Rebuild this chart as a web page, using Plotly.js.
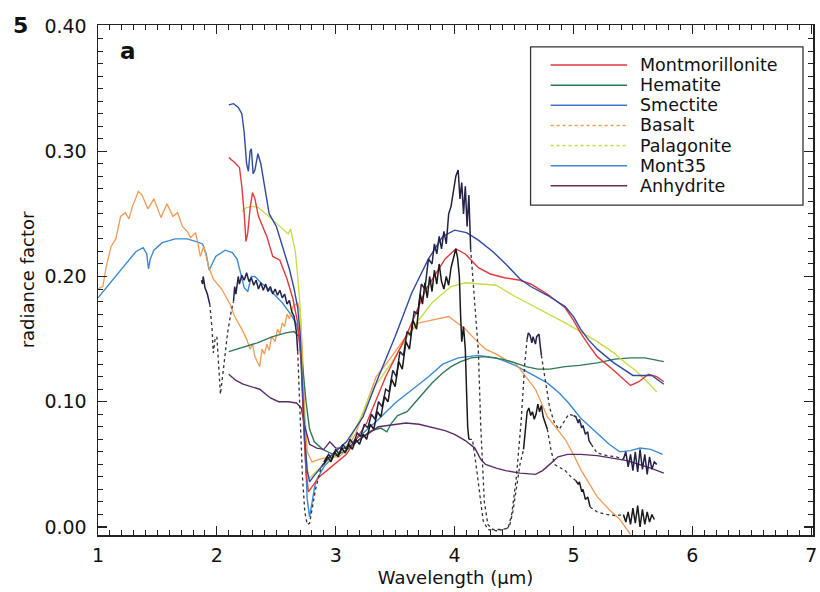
<!DOCTYPE html>
<html><head><meta charset="utf-8">
<script src="https://cdn.plot.ly/plotly-3.0.1.min.js"></script>
<style>body{margin:0;background:#fff}#c{width:820px;height:592px}</style>
</head><body><div id="c"></div>
<script>
// ---- Data (wavelength µm, radiance factor) ----
const seriesNames = ["Montmorillonite","Hematite","Smectite","Basalt","Palagonite","Mont35","Anhydrite"];

const montX = [2.1,2.15,2.19,2.21,2.23,2.245,2.26,2.28,2.3,2.32,2.35,2.42,2.47,2.53,2.59,2.64,2.68,2.71,2.73,2.75,2.77,2.8,2.86,2.95,3.09,3.26,3.42,3.59,3.76,3.92,4.01,4.09,4.2,4.3,4.42,4.55,4.64,4.78,4.93,5.0,5.06,5.13,5.2,5.34,5.42,5.48,5.55,5.63,5.7,5.76];
const montY = [0.295,0.291,0.287,0.272,0.25,0.228,0.235,0.255,0.267,0.262,0.248,0.232,0.216,0.213,0.198,0.182,0.163,0.13,0.08,0.045,0.028,0.032,0.04,0.047,0.058,0.083,0.12,0.152,0.19,0.214,0.222,0.218,0.207,0.202,0.199,0.197,0.194,0.186,0.175,0.165,0.155,0.145,0.136,0.125,0.118,0.113,0.116,0.122,0.12,0.116];

const hemX = [2.1,2.2,2.34,2.47,2.58,2.65,2.69,2.72,2.75,2.78,2.82,2.89,3.0,3.1,3.2,3.3,3.38,3.43,3.47,3.52,3.6,3.7,3.81,3.9,3.97,4.05,4.14,4.25,4.4,4.51,4.6,4.7,4.8,4.93,5.05,5.2,5.35,5.48,5.6,5.76];
const hemY = [0.14,0.143,0.147,0.152,0.155,0.156,0.152,0.13,0.1,0.078,0.068,0.062,0.057,0.062,0.07,0.077,0.079,0.076,0.083,0.089,0.092,0.103,0.115,0.123,0.128,0.132,0.135,0.136,0.134,0.131,0.128,0.126,0.126,0.128,0.129,0.131,0.134,0.135,0.135,0.132];

const smecX = [2.1,2.14,2.18,2.21,2.23,2.25,2.265,2.28,2.29,2.305,2.32,2.345,2.37,2.4,2.44,2.5,2.56,2.61,2.65,2.68,2.7,2.72,2.74,2.76,2.78,2.81,2.86,2.95,3.09,3.23,3.36,3.5,3.64,3.78,3.9,4.0,4.1,4.2,4.32,4.43,4.55,4.64,4.78,4.93,5.0,5.06,5.13,5.2,5.34,5.42,5.5,5.58,5.66,5.76];
const smecY = [0.337,0.338,0.335,0.33,0.315,0.29,0.284,0.3,0.302,0.282,0.285,0.298,0.29,0.272,0.25,0.24,0.222,0.206,0.19,0.175,0.155,0.11,0.07,0.045,0.036,0.04,0.046,0.056,0.068,0.088,0.12,0.152,0.187,0.214,0.232,0.237,0.235,0.229,0.22,0.21,0.198,0.192,0.185,0.176,0.168,0.158,0.149,0.142,0.131,0.126,0.121,0.121,0.121,0.114];

const basX = [1.0,1.04,1.07,1.11,1.15,1.19,1.23,1.26,1.29,1.34,1.37,1.42,1.47,1.5,1.53,1.58,1.63,1.67,1.71,1.75,1.78,1.82,1.84,1.86,1.89,1.93,1.97,2.04,2.11,2.15,2.21,2.25,2.28,2.3,2.32,2.34,2.36,2.38,2.4,2.42,2.44,2.46,2.49,2.51,2.53,2.55,2.57,2.59,2.61,2.64,2.68,2.7,2.72,2.74,2.76,2.8,2.86,2.95,3.03,3.09,3.17,3.26,3.34,3.39,3.47,3.59,3.7,3.8,3.89,3.95,4.02,4.09,4.17,4.26,4.35,4.44,4.51,4.6,4.68,4.78,4.86,4.93,5.0,5.06,5.13,5.2,5.3,5.39,5.48];
const basY = [0.19,0.192,0.208,0.224,0.23,0.248,0.251,0.246,0.256,0.268,0.265,0.254,0.262,0.255,0.247,0.258,0.248,0.251,0.24,0.236,0.231,0.235,0.227,0.216,0.224,0.208,0.198,0.19,0.178,0.168,0.158,0.15,0.142,0.146,0.136,0.132,0.128,0.142,0.138,0.146,0.141,0.152,0.148,0.158,0.154,0.163,0.16,0.17,0.166,0.176,0.179,0.172,0.14,0.09,0.06,0.052,0.054,0.056,0.056,0.062,0.075,0.099,0.12,0.126,0.136,0.152,0.163,0.165,0.167,0.168,0.163,0.158,0.15,0.142,0.138,0.133,0.131,0.12,0.11,0.088,0.078,0.07,0.058,0.046,0.035,0.024,0.014,0.006,-0.006];

const palX = [2.21,2.25,2.3,2.35,2.45,2.53,2.6,2.62,2.64,2.66,2.68,2.7,2.71,2.72,2.74,2.76,2.78,2.82,2.9,3.0,3.1,3.2,3.31,3.47,3.64,3.81,3.97,4.09,4.26,4.35,4.51,4.65,4.78,4.93,5.06,5.2,5.34,5.45,5.51,5.6,5.7];
const palY = [0.252,0.255,0.256,0.255,0.247,0.24,0.234,0.238,0.229,0.22,0.2,0.176,0.155,0.12,0.075,0.045,0.039,0.043,0.05,0.058,0.066,0.085,0.11,0.131,0.158,0.179,0.192,0.195,0.194,0.193,0.184,0.177,0.171,0.163,0.156,0.148,0.139,0.13,0.126,0.118,0.108];

const m35X = [1.0,1.06,1.13,1.21,1.32,1.38,1.41,1.425,1.44,1.47,1.54,1.65,1.75,1.82,1.88,1.91,1.935,1.96,1.99,2.07,2.13,2.17,2.2,2.23,2.26,2.29,2.32,2.37,2.45,2.55,2.62,2.67,2.7,2.72,2.74,2.76,2.78,2.8,2.83,2.9,3.0,3.17,3.35,3.5,3.65,3.78,3.9,4.03,4.2,4.35,4.51,4.65,4.78,4.88,4.95,5.06,5.2,5.3,5.39,5.48,5.56,5.65,5.75];
const m35Y = [0.183,0.19,0.198,0.208,0.22,0.223,0.218,0.206,0.214,0.221,0.227,0.23,0.23,0.228,0.226,0.218,0.205,0.21,0.216,0.221,0.219,0.214,0.203,0.191,0.188,0.2,0.2,0.195,0.189,0.179,0.17,0.162,0.15,0.11,0.06,0.022,0.008,0.018,0.036,0.048,0.058,0.07,0.085,0.099,0.11,0.12,0.13,0.135,0.137,0.135,0.129,0.122,0.115,0.107,0.1,0.087,0.075,0.066,0.06,0.061,0.063,0.062,0.058];

const anhX = [2.1,2.16,2.22,2.3,2.36,2.45,2.52,2.6,2.67,2.71,2.74,2.78,2.84,2.9,2.95,3.0,3.09,3.16,3.23,3.36,3.5,3.59,3.7,3.8,3.92,4.0,4.09,4.17,4.22,4.26,4.35,4.43,4.55,4.68,4.74,4.8,4.87,4.95,5.06,5.2,5.34,5.45,5.55,5.65,5.76];
const anhY = [0.122,0.117,0.114,0.112,0.11,0.103,0.1,0.1,0.099,0.095,0.08,0.066,0.063,0.062,0.068,0.063,0.063,0.067,0.072,0.08,0.082,0.083,0.082,0.08,0.077,0.074,0.069,0.063,0.054,0.05,0.047,0.045,0.043,0.042,0.045,0.05,0.056,0.058,0.058,0.057,0.055,0.053,0.05,0.047,0.043];

// Observed spectra (black): solid pieces and dotted gaps, null separates pieces
const obsASolidX = [1.87,1.88,1.885,1.9,1.92,1.94,null,
 2.14,2.15,2.16,2.18,2.19,2.21,2.23,2.25,2.27,2.29,2.31,2.33,2.35,2.37,2.39,2.41,2.43,2.45,2.47,2.49,2.51,2.53,2.55,2.57,2.59,2.61,2.63,2.65,2.67,2.68,null,
 2.9,2.94,2.97,3.0,3.03,3.06,3.09,3.12,3.15,3.18,3.21,3.24,3.27,3.3,3.33,3.36,3.39,3.42,3.45,3.48,3.51,3.54,3.57,3.6,3.63,3.66,3.69,3.72,3.75,3.78,3.81,3.83,3.85,3.87,3.89,3.91,3.93,3.95,3.97,3.99,4.01,4.03,4.045,4.06,4.075,4.09,4.105,4.12,4.135,null,
 4.61,4.62,4.635,4.65,4.66,4.68,4.69,4.71,4.72,4.73,null,
 5.0,5.02,5.04,5.05,5.07,5.08,5.1,5.12,5.13,5.15,null,
 5.42,5.44,5.46,5.48,5.5,5.52,5.54,5.56,5.58,5.6,5.62,5.64,5.66,5.68,5.7];
const obsASolidY = [0.197,0.194,0.2,0.191,0.186,0.178,null,
 0.18,0.192,0.186,0.2,0.194,0.201,0.197,0.203,0.196,0.199,0.193,0.197,0.19,0.195,0.189,0.194,0.188,0.192,0.186,0.19,0.185,0.189,0.183,0.186,0.178,0.181,0.172,0.168,0.155,0.14,null,
 0.052,0.058,0.054,0.062,0.058,0.066,0.062,0.07,0.066,0.075,0.072,0.082,0.079,0.09,0.086,0.1,0.096,0.11,0.108,0.125,0.12,0.14,0.137,0.156,0.153,0.172,0.17,0.194,0.19,0.214,0.21,0.226,0.218,0.232,0.222,0.236,0.226,0.25,0.256,0.27,0.28,0.285,0.262,0.275,0.25,0.272,0.24,0.265,0.222,null,
 0.15,0.155,0.153,0.147,0.152,0.146,0.152,0.154,0.145,0.137,null,
 0.089,0.088,0.083,0.086,0.079,0.081,0.074,0.076,0.069,0.066,null,
 0.054,0.06,0.048,0.058,0.045,0.06,0.044,0.062,0.046,0.058,0.042,0.056,0.046,0.052,0.05];
const obsADotX = [1.94,1.96,1.97,1.985,2.0,2.015,2.03,2.06,2.09,2.12,2.14,null,
 2.68,2.7,2.72,2.74,2.76,2.78,2.8,2.83,2.87,2.9,null,
 4.135,4.17,4.2,4.22,4.25,4.28,4.32,4.4,4.45,4.48,4.52,4.56,4.59,4.61,null,
 4.73,4.76,4.8,4.84,4.88,4.92,4.96,5.0,null,
 5.15,5.2,5.28,5.36,5.42];
const obsADotY = [0.178,0.158,0.139,0.15,0.152,0.128,0.106,0.13,0.155,0.172,0.18,null,
 0.14,0.09,0.04,0.012,0.002,0.003,0.015,0.03,0.045,0.052,null,
 0.222,0.18,0.14,0.08,0.02,0.002,-0.002,-0.002,-0.001,0.01,0.04,0.085,0.13,0.15,null,
 0.137,0.12,0.095,0.083,0.078,0.084,0.09,0.089,null,
 0.066,0.059,0.057,0.056,0.054];

const obsBSolidX = [2.9,2.93,2.96,2.99,3.02,3.05,3.08,3.11,3.14,3.17,3.2,3.23,3.26,3.29,3.32,3.35,3.38,3.41,3.44,3.47,3.5,3.53,3.56,3.59,3.62,3.65,3.68,3.71,3.73,3.75,3.77,3.79,3.81,3.83,3.85,3.87,3.89,3.91,3.93,3.95,3.97,3.99,4.01,4.025,4.04,4.05,4.06,4.075,4.09,4.1,4.11,4.12,null,
 4.58,4.595,4.61,4.625,4.64,4.655,4.67,4.685,4.7,4.715,4.73,4.745,4.76,4.78,null,
 5.02,5.04,5.05,5.07,5.08,5.1,5.12,5.14,null,
 5.42,5.44,5.46,5.48,5.5,5.52,5.54,5.56,5.58,5.6,5.62,5.64,5.66,5.68];
const obsBSolidY = [0.05,0.056,0.052,0.06,0.056,0.063,0.059,0.066,0.062,0.07,0.066,0.074,0.07,0.082,0.078,0.092,0.088,0.104,0.1,0.118,0.112,0.132,0.126,0.148,0.142,0.165,0.158,0.186,0.178,0.195,0.183,0.2,0.188,0.205,0.194,0.21,0.196,0.19,0.2,0.193,0.207,0.215,0.222,0.215,0.2,0.17,0.148,0.16,0.142,0.11,0.08,0.07,null,
 0.062,0.08,0.092,0.095,0.089,0.092,0.086,0.09,0.098,0.092,0.097,0.088,0.084,0.078,null,
 0.037,0.034,0.036,0.028,0.03,0.022,0.024,0.016,null,
 0.01,0.004,0.012,0.002,0.015,0.003,0.017,0.0,0.014,0.002,0.012,0.004,0.01,0.006];
const obsBDotX = [4.12,4.15,4.18,4.21,4.24,4.28,4.35,4.42,4.46,4.49,4.52,4.55,4.58,null,
 4.78,4.81,4.84,4.88,4.93,4.98,5.02,null,
 5.14,5.2,5.28,5.36,5.42];
const obsBDotY = [0.07,0.07,0.05,0.025,0.005,-0.002,-0.003,-0.002,0.0,0.012,0.03,0.05,0.062,null,
 0.078,0.062,0.05,0.048,0.045,0.04,0.037,null,
 0.016,0.012,0.01,0.009,0.01];

// ---- Styling ----
const colors = {Montmorillonite:"#e3393c",Hematite:"#2f7a55",Smectite:"#2f4aa0",Basalt:"#f39a55",Palagonite:"#c6dc42",Mont35:"#3b8ad6",Anhydrite:"#5b2d68"};
const legendColors = {Montmorillonite:"#e3393c",Hematite:"#2f7a55",Smectite:"#3f78cf",Basalt:"#f39a55",Palagonite:"#c6dc42",Mont35:"#3b8ad6",Anhydrite:"#6a2e5a"};
const legendDash = {Basalt:"dot",Palagonite:"dot"};
const FONT = "DejaVu Sans, Liberation Sans, Arial, sans-serif";

function line(name,x,y,color,w,dash){
  return {type:"scatter",mode:"lines",name:name,x:x,y:y,showlegend:false,connectgaps:false,
    line:{color:color,width:w,dash:dash||"solid"},hoverinfo:"skip"};
}
const traces = [
  line("Mont35",m35X,m35Y,colors.Mont35,1.4),
  line("Basalt",basX,basY,colors.Basalt,1.3),
  line("Hematite",hemX,hemY,colors.Hematite,1.4),
  line("Palagonite",palX,palY,colors.Palagonite,1.3),
  line("Anhydrite",anhX,anhY,colors.Anhydrite,1.4),
  line("Montmorillonite",montX,montY,colors.Montmorillonite,1.4),
  line("Smectite",smecX,smecY,colors.Smectite,1.4),
  line("obsA",obsASolidX,obsASolidY,"#23234a",1.5),
  line("obsA gaps",obsADotX,obsADotY,"#333333",1.3,"dot"),
  line("obsB",obsBSolidX,obsBSolidY,"#1a1a1a",1.5),
  line("obsB gaps",obsBDotX,obsBDotY,"#333333",1.3,"dot")
];

// custom legend (paper coordinates)
const shapes = [{type:"rect",xref:"paper",yref:"paper",x0:0.605,x1:0.986,y0:0.647,y1:0.957,line:{color:"#333",width:1.3},fillcolor:"rgba(255,255,255,0)"}];
const annotations = [];
seriesNames.forEach((n,i)=>{
  const yy = 0.9216 - i*0.0395;
  shapes.push({type:"line",xref:"paper",yref:"paper",x0:0.633,x1:0.740,y0:yy,y1:yy,line:{color:legendColors[n],width:1.5,dash:legendDash[n]||"solid"}});
  annotations.push({xref:"paper",yref:"paper",x:0.756,y:yy,xanchor:"left",yanchor:"middle",text:n,showarrow:false,borderpad:0,font:{family:FONT,size:17.5,color:"#111"}});
});
annotations.push({xref:"paper",yref:"paper",x:0.028,y:0.95,xanchor:"left",yanchor:"middle",text:"<b>a</b>",showarrow:false,font:{family:FONT,size:23,color:"#111"}});
annotations.push({xref:"paper",yref:"paper",x:-0.122,y:1.0,xanchor:"left",yanchor:"middle",text:"<b>5</b>",showarrow:false,font:{family:FONT,size:22,color:"#111"}});

const layout = {
  width:820,height:592,
  margin:{l:98,r:7,t:25,b:57},
  paper_bgcolor:"#fff",plot_bgcolor:"#fff",
  font:{family:FONT,size:19,color:"#111"},
  showlegend:false,
  xaxis:{range:[1,7.015],tickvals:[1,2,3,4,5,6,7],ticktext:["1","2","3","4","5","6","7"],
    ticks:"inside",ticklen:9,tickwidth:1.2,tickcolor:"#222",ticklabeloverflow:"allow",
    minor:{ticks:"inside",ticklen:5,dtick:0.1,tickwidth:1,tickcolor:"#222",showgrid:false},
    showline:true,linecolor:"#222",linewidth:1.5,mirror:"allticks",showgrid:false,zeroline:false,
    ticklabelstandoff:3,
    title:{text:"Wavelength (µm)",standoff:6,font:{family:FONT,size:18}}},
  yaxis:{range:[-0.0064,0.4008],tickvals:[0,0.1,0.2,0.3,0.4],ticktext:["0.00","0.10","0.20","0.30","0.40"],
    ticks:"inside",ticklen:9,tickwidth:1.2,tickcolor:"#222",ticklabeloverflow:"allow",
    minor:{ticks:"inside",ticklen:5,dtick:0.01,tickwidth:1,tickcolor:"#222",showgrid:false},
    showline:true,linecolor:"#222",linewidth:1.5,mirror:"allticks",showgrid:false,zeroline:false,
    ticklabelstandoff:6,
    title:{text:"radiance factor",standoff:5,font:{family:FONT,size:18}}},
  shapes:shapes,annotations:annotations
};
Plotly.newPlot("c",traces,layout,{staticPlot:true,displayModeBar:false});
</script></body></html>
